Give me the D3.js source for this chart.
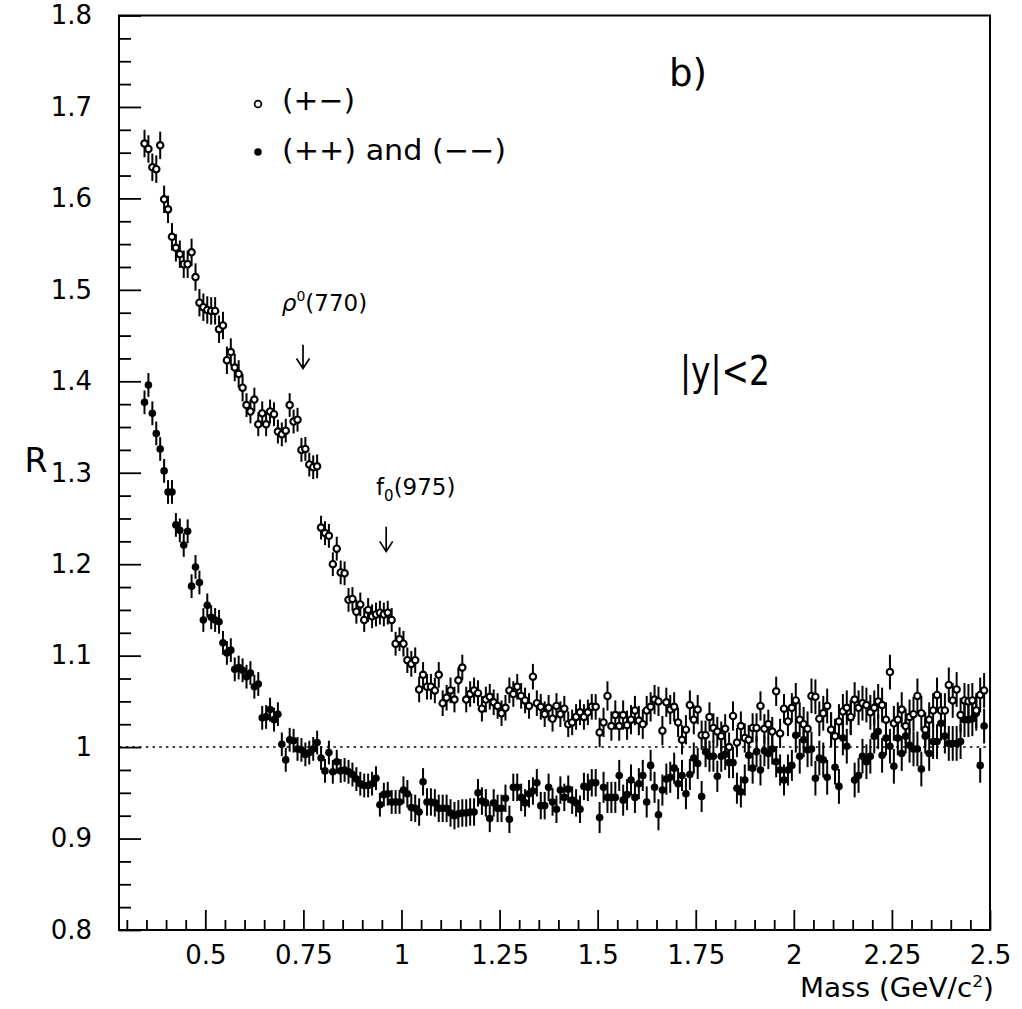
<!DOCTYPE html>
<html><head><meta charset="utf-8">
<script src="https://cdn.jsdelivr.net/npm/d3@7"></script>
<style>
html,body{margin:0;padding:0;background:#fff;}
svg{display:block;}
text{font-family:"DejaVu Sans",sans-serif;fill:#000;}
</style></head>
<body>
<svg id="chart" width="1022" height="1009"></svg>
<script>
// ---------- data ----------
const binStart = 0.345, binWidth = 0.01;   // bin centres in GeV/c^2
// (+-) pairs, open circles
const openR = [
1.660,1.654,1.634,1.632,1.658,1.599,1.588,1.558,1.546,1.539,1.528,1.528,1.541,1.514,1.486,1.481,1.478,1.477,1.477,1.457,
1.461,1.423,1.432,1.415,1.408,1.393,1.374,1.367,1.380,1.353,1.365,1.353,1.367,1.364,1.345,1.342,1.346,1.374,1.356,1.358,
1.325,1.326,1.309,1.306,1.307,1.240,1.234,1.231,1.200,1.217,1.191,1.190,1.161,1.162,1.148,1.156,1.139,1.150,1.143,1.145,
1.147,1.145,1.147,1.139,1.113,1.118,1.113,1.095,1.091,1.095,1.063,1.079,1.066,1.066,1.062,1.079,1.048,1.054,1.062,1.052,
1.073,1.087,1.052,1.058,1.062,1.059,1.042,1.052,1.055,1.049,1.045,1.037,1.043,1.062,1.058,1.066,1.056,1.051,1.045,1.077,
1.048,1.044,1.036,1.043,1.031,1.045,1.036,1.042,1.025,1.027,1.033,1.038,1.033,1.038,1.044,1.044,1.016,1.027,1.056,1.023,
1.035,1.023,1.035,1.024,1.030,1.040,1.029,1.025,1.040,1.044,1.052,1.050,1.018,1.049,1.041,1.044,1.027,1.008,1.019,1.046,
1.030,1.041,1.013,1.013,1.033,1.021,1.017,1.012,1.020,1.000,1.034,1.005,1.023,1.010,1.008,1.021,1.021,1.045,1.020,1.025,
1.017,1.061,1.015,1.042,1.028,1.043,1.051,1.030,1.025,1.020,1.056,1.055,1.031,1.037,1.045,1.019,1.012,1.028,1.039,1.043,
1.033,1.052,1.043,1.048,1.046,1.038,1.043,1.050,1.046,1.030,1.082,1.026,1.030,1.041,1.023,1.033,1.036,1.056,1.037,1.019,
1.030,1.040,1.057,1.040,1.040,1.068,1.051,1.063,1.035,1.051,1.050,1.051,1.040,1.057,1.062
];
// (++) and (--) pairs, filled circles
const filledR = [
1.377,1.396,1.365,1.343,1.326,1.302,1.279,1.279,1.243,1.237,1.221,1.236,1.176,1.197,1.180,1.139,1.155,1.142,1.139,1.137,
1.114,1.103,1.106,1.085,1.087,1.084,1.077,1.081,1.066,1.069,1.032,1.033,1.041,1.030,1.036,1.003,0.986,1.008,1.007,0.998,
0.997,0.992,0.994,0.998,1.005,0.988,0.974,0.994,0.973,0.984,0.974,0.975,0.973,0.970,0.965,0.960,0.958,0.958,0.960,0.966,
0.937,0.948,0.949,0.940,0.940,0.940,0.953,0.949,0.934,0.933,0.929,0.962,0.940,0.940,0.939,0.933,0.933,0.933,0.928,0.925,
0.927,0.928,0.928,0.929,0.929,0.950,0.941,0.939,0.922,0.939,0.933,0.933,0.944,0.921,0.956,0.956,0.945,0.939,0.949,0.952,
0.961,0.936,0.936,0.956,0.940,0.932,0.953,0.945,0.954,0.942,0.939,0.932,0.957,0.956,0.961,0.961,0.923,0.956,0.945,0.945,
0.945,0.969,0.942,0.948,0.964,0.945,0.960,0.969,0.940,0.980,0.956,0.926,0.953,0.965,0.967,0.977,0.960,0.969,0.949,0.970,
0.988,0.982,0.946,0.995,0.990,0.990,0.968,0.990,0.992,0.983,0.983,0.955,0.951,0.964,0.991,0.977,0.995,0.975,0.996,0.993,
0.998,0.984,0.975,0.964,0.975,0.980,1.013,0.990,1.008,0.997,0.998,0.966,0.988,0.986,0.967,1.019,0.978,0.957,1.010,1.001,
1.032,0.964,0.969,0.990,0.984,0.990,1.012,1.017,0.991,1.010,1.001,0.979,1.010,0.993,1.012,1.002,0.998,0.998,0.976,1.012,
0.993,1.006,1.006,1.026,1.012,1.004,1.004,1.004,1.006,1.030,1.030,1.031,1.037,0.980,1.023
];
// error-bar half sizes per mass range
const errEdges   = [0.34, 0.6, 1.0, 1.5, 2.0, 2.5];
const openErr    = [0.015, 0.013, 0.014, 0.016, 0.019];
const filledErr  = [0.013, 0.013, 0.015, 0.017, 0.019];

const xTickValues = [0.5, 0.75, 1, 1.25, 1.5, 1.75, 2, 2.25, 2.5];
const xTickLabels = ["0.5","0.75","1","1.25","1.5","1.75","2","2.25","2.5"];
const yTickValues = [0.8, 0.9, 1.0, 1.1, 1.2, 1.3, 1.4, 1.5, 1.6, 1.7, 1.8];
const yTickLabels = ["0.8","0.9","1","1.1","1.2","1.3","1.4","1.5","1.6","1.7","1.8"];

const annotations = [
  {label:"rho", mass:0.749, top:1.440, bottom:1.414, textMass:0.695, textR:1.477},
  {label:"f0",  mass:0.961, top:1.241, bottom:1.214, textMass:0.935, textR:1.276}
];

// ---------- layout ----------
const L = 119, R = 990, T = 15.5, B = 930;
const svg = d3.select("#chart");
svg.append("rect").attr("width",1022).attr("height",1009).attr("fill","#fff");

const x = d3.scaleLinear().domain([0.28, 2.5]).range([L, R]);
const y = d3.scaleLinear().domain([0.8, 1.8]).range([B, T]);

function errFor(m, table){
  const k = Math.max(0, Math.min(table.length-1, d3.bisectRight(errEdges, m) - 1));
  return table[k];
}
const openPts = openR.map((v,i)=>({m: binStart + i*binWidth, r: v, e: errFor(binStart + i*binWidth, openErr)}));
const filledPts = filledR.map((v,i)=>({m: binStart + i*binWidth, r: v, e: errFor(binStart + i*binWidth, filledErr)}));

// reference line R = 1
svg.append("line")
  .attr("x1", x(0.28)).attr("x2", x(2.5))
  .attr("y1", y(1)).attr("y2", y(1))
  .attr("stroke","#000").attr("stroke-width",1.5)
  .attr("stroke-dasharray","2.5,4.2");

// filled series
const gF = svg.append("g");
gF.selectAll("line").data(filledPts).join("line")
  .attr("x1", d=>x(d.m)).attr("x2", d=>x(d.m))
  .attr("y1", d=>y(d.r+d.e)).attr("y2", d=>y(d.r-d.e))
  .attr("stroke","#000").attr("stroke-width",2);
gF.selectAll("circle").data(filledPts).join("circle")
  .attr("cx", d=>x(d.m)).attr("cy", d=>y(d.r)).attr("r",3.8)
  .attr("fill","#000");

// open series
const gO = svg.append("g");
gO.selectAll("line").data(openPts).join("line")
  .attr("x1", d=>x(d.m)).attr("x2", d=>x(d.m))
  .attr("y1", d=>y(d.r+d.e)).attr("y2", d=>y(d.r-d.e))
  .attr("stroke","#000").attr("stroke-width",2);
gO.selectAll("circle").data(openPts).join("circle")
  .attr("cx", d=>x(d.m)).attr("cy", d=>y(d.r)).attr("r",3.2)
  .attr("fill","#fff").attr("stroke","#000").attr("stroke-width",2.1);

// axes
const xMinor = d3.range(0.30, 2.5, 0.05).filter(v => !xTickValues.some(t => Math.abs(t-v) < 1e-6));
const yMinor = d3.range(0.825, 1.8, 0.025).filter(v => !yTickValues.some(t => Math.abs(t-v) < 1e-6));

const xAxisG = svg.append("g").attr("transform",`translate(0,${B})`);
xAxisG.call(d3.axisBottom(x).tickValues(xTickValues).tickSize(-20).tickPadding(16)
  .tickFormat((d,i)=>xTickLabels[i]));
const xMinorG = svg.append("g").attr("transform",`translate(0,${B})`);
xMinorG.call(d3.axisBottom(x).tickValues(xMinor).tickSize(-10).tickFormat(""));

const yAxisG = svg.append("g").attr("transform",`translate(${L},0)`);
yAxisG.call(d3.axisLeft(y).tickValues(yTickValues).tickSize(-22).tickPadding(27)
  .tickFormat((d,i)=>yTickLabels[i]));
const yMinorG = svg.append("g").attr("transform",`translate(${L},0)`);
yMinorG.call(d3.axisLeft(y).tickValues(yMinor).tickSize(-12).tickFormat(""));

[xAxisG, xMinorG, yAxisG, yMinorG].forEach(g=>{
  g.select(".domain").remove();
  g.selectAll(".tick line").attr("stroke","#000").attr("stroke-width",1.8);
  g.selectAll("text").style("font-family","'DejaVu Sans',sans-serif").style("font-size","26px").attr("fill","#000");
});

// frame
svg.append("rect").attr("x",L).attr("y",T).attr("width",R-L).attr("height",B-T)
  .attr("fill","none").attr("stroke","#000").attr("stroke-width",2);

// axis titles
svg.append("text").attr("x",36).attr("y",472).attr("text-anchor","middle")
  .style("font-size","33px").text("R");
const mt = svg.append("text").attr("x",994).attr("y",997).attr("text-anchor","end")
  .style("font-size","26px").attr("textLength",194).attr("lengthAdjust","spacingAndGlyphs");
mt.append("tspan").text("Mass (GeV/c");
mt.append("tspan").attr("dy",-10).style("font-size","16px").text("2");
mt.append("tspan").attr("dy",10).text(")");

// legend
svg.append("circle").attr("cx",258).attr("cy",104).attr("r",3.4)
  .attr("fill","#fff").attr("stroke","#000").attr("stroke-width",1.7);
svg.append("circle").attr("cx",258).attr("cy",152).attr("r",3.8).attr("fill","#000");
svg.append("text").attr("x",282).attr("y",110).style("font-size","28px")
  .attr("textLength",73).attr("lengthAdjust","spacingAndGlyphs").text("(+\u2212)");
svg.append("text").attr("x",282).attr("y",160).style("font-size","28px")
  .attr("textLength",224).attr("lengthAdjust","spacingAndGlyphs").text("(++) and (\u2212\u2212)");

// panel labels
svg.append("text").attr("x",669).attr("y",86).style("font-size","37px")
  .attr("textLength",38).attr("lengthAdjust","spacingAndGlyphs").text("b)");
svg.append("text").attr("x",680).attr("y",385).style("font-size","40px")
  .attr("textLength",90).attr("lengthAdjust","spacingAndGlyphs").text("|y|<2");

// resonance annotations
annotations.forEach(a=>{
  const ax = x(a.mass), y0 = y(a.top), y1 = y(a.bottom);
  svg.append("path")
    .attr("d",`M${ax},${y0}L${ax},${y1}M${ax-6.5},${y1-10}L${ax},${y1}L${ax+6.5},${y1-10}`)
    .attr("fill","none").attr("stroke","#000").attr("stroke-width",1.7);
  const t = svg.append("text").attr("x",x(a.textMass)).attr("y",y(a.textR)).style("font-size","23px");
  if (a.label === "rho") {
    t.append("tspan").style("font-style","italic").text("\u03C1");
    t.append("tspan").attr("dy",-10).style("font-size","14px").text("0");
    t.append("tspan").attr("dy",10).text("(770)");
  } else {
    t.append("tspan").text("f");
    t.append("tspan").attr("dy",6).style("font-size","15px").text("0");
    t.append("tspan").attr("dy",-6).text("(975)");
  }
});
</script>
</body></html>
